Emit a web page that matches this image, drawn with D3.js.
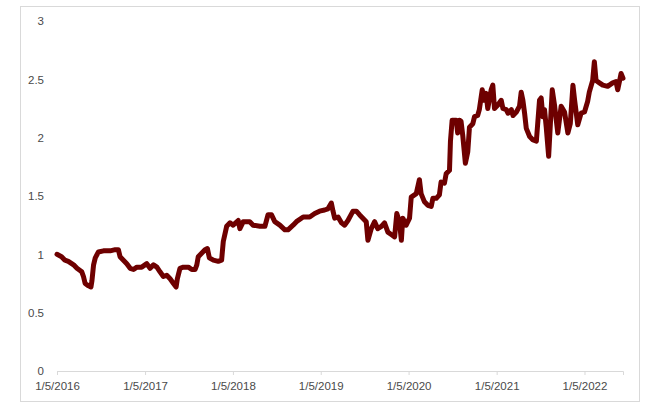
<!DOCTYPE html>
<html>
<head>
<meta charset="utf-8">
<script src="https://cdn.jsdelivr.net/npm/d3@7"></script>
<style>
  body { margin: 0; background: #fff; }
  svg { display: block; font-family: "Open Sans", "Liberation Sans", Arial, sans-serif; }
</style>
</head>
<body>
<div id="chart"></div>
<script>
// values
var dates = [
  "2016-01-05","2016-01-24","2016-02-07","2016-02-21","2016-03-14","2016-03-28","2016-04-17","2016-04-24","2016-05-01","2016-05-15","2016-05-25","2016-05-29","2016-06-05","2016-06-12","2016-06-25","2016-07-16","2016-08-13","2016-09-03","2016-09-16","2016-09-23","2016-10-07","2016-10-21","2016-11-04","2016-11-18","2016-12-02","2016-12-22",
  "2017-01-12","2017-01-26","2017-02-09","2017-02-23","2017-03-08","2017-03-22","2017-04-05","2017-04-19","2017-05-03","2017-05-14","2017-05-19","2017-05-30","2017-06-13","2017-07-04","2017-07-18","2017-08-01","2017-08-08","2017-08-14","2017-08-28","2017-09-11","2017-09-21","2017-09-29","2017-10-16","2017-11-05","2017-11-19","2017-11-26","2017-12-10","2017-12-24",
  "2018-01-06","2018-01-27","2018-02-03","2018-02-17","2018-03-16","2018-03-30","2018-04-27","2018-05-18","2018-05-31","2018-06-14","2018-06-28","2018-07-19","2018-08-09","2018-08-22","2018-09-12","2018-09-26","2018-10-24","2018-11-20","2018-12-11","2018-12-31",
  "2019-01-21","2019-02-04","2019-02-18","2019-02-25","2019-03-04","2019-03-18","2019-04-01","2019-04-14","2019-04-28","2019-05-19","2019-06-02","2019-06-15","2019-06-29","2019-07-13","2019-07-20","2019-08-03","2019-08-17","2019-08-30","2019-09-14","2019-09-27","2019-10-11","2019-10-25","2019-11-08","2019-11-17","2019-11-28","2019-12-06","2019-12-12","2019-12-26",
  "2020-01-09","2020-01-16","2020-02-06","2020-02-19","2020-02-26","2020-03-11","2020-03-25","2020-04-08","2020-04-15","2020-04-29","2020-05-12","2020-05-19","2020-06-02","2020-06-09","2020-06-23","2020-06-27","2020-07-04","2020-07-21","2020-07-27","2020-08-03","2020-08-10","2020-08-17","2020-08-28","2020-09-07","2020-09-14","2020-09-28","2020-10-05","2020-10-18","2020-10-25","2020-11-06","2020-11-15","2020-11-22","2020-11-29","2020-12-13","2020-12-20","2020-12-27",
  "2021-01-10","2021-01-24","2021-01-31","2021-02-14","2021-02-21","2021-03-07","2021-03-14","2021-03-28","2021-04-10","2021-04-17","2021-04-24","2021-05-01","2021-05-08","2021-05-22","2021-06-05","2021-06-19","2021-07-02","2021-07-09","2021-07-16","2021-07-23","2021-07-30","2021-08-09","2021-08-16","2021-08-24","2021-09-03","2021-09-16","2021-09-30","2021-10-14","2021-10-28","2021-11-07","2021-11-18","2021-11-25","2021-12-08","2021-12-22",
  "2022-01-05","2022-01-18","2022-01-25","2022-02-08","2022-02-15","2022-02-22","2022-03-08","2022-03-22","2022-04-11","2022-05-02","2022-05-16","2022-05-23","2022-05-30","2022-06-06","2022-06-14"
];

var values = [
  1.00,0.98,0.95,0.94,0.91,0.88,0.85,0.81,0.75,0.73,0.72,0.77,0.91,0.97,1.02,1.03,1.03,1.04,1.04,0.98,0.95,0.92,0.88,0.87,0.89,0.89,
  0.92,0.88,0.91,0.89,0.85,0.81,0.82,0.79,0.75,0.72,0.79,0.88,0.89,0.89,0.87,0.87,0.91,0.98,1.01,1.04,1.05,0.97,0.95,0.94,0.95,1.11,1.24,1.27,
  1.25,1.29,1.22,1.28,1.28,1.25,1.24,1.24,1.34,1.34,1.28,1.25,1.21,1.21,1.25,1.28,1.32,1.32,1.35,1.37,
  1.38,1.39,1.44,1.37,1.31,1.32,1.27,1.25,1.29,1.37,1.37,1.34,1.31,1.28,1.12,1.22,1.28,1.22,1.24,1.27,1.19,1.17,1.15,1.35,1.28,1.12,1.31,1.25,
  1.31,1.49,1.52,1.64,1.52,1.45,1.42,1.41,1.48,1.48,1.51,1.62,1.61,1.69,1.72,1.97,2.15,2.15,2.04,2.15,2.14,2.02,1.78,1.88,2.09,2.12,2.18,2.19,2.24,2.41,2.32,2.38,2.25,2.41,2.45,2.25,
  2.28,2.32,2.25,2.24,2.21,2.24,2.19,2.22,2.27,2.39,2.32,2.21,2.08,2.01,1.98,1.97,2.32,2.34,2.18,2.24,2.09,1.84,2.11,2.41,2.27,2.04,2.27,2.22,2.04,2.12,2.45,2.32,2.11,2.21,
  2.22,2.31,2.39,2.49,2.65,2.49,2.47,2.45,2.44,2.47,2.48,2.41,2.48,2.55,2.51
];

var xTicks = ["2016-01-05","2017-01-05","2018-01-05","2019-01-05","2020-01-05","2021-01-05","2022-01-05"];
var yTicks = [0, 0.5, 1, 1.5, 2, 2.5, 3];

var width = 653, height = 412;
var parse = d3.timeParse("%Y-%m-%d");

var data = dates.map(function (d, i) {
    return { date: parse(d), value: values[i] };
});

var svg = d3.select("#chart").append("svg")
    .attr("width", width)
    .attr("height", height);

// chart area border
svg.append("rect")
    .attr("x", 20.5).attr("y", 6.5)
    .attr("width", 619).attr("height", 395)
    .attr("fill", "#fff")
    .attr("stroke", "#d9d9d9");

var x = d3.scaleTime()
    .domain(d3.extent(data, function (d) { return d.date; }))
    .range([57, 623]);

var y = d3.scaleLinear()
    .domain([0, 3])
    .range([371, 21]);

var axisX = svg.append("g")
    .attr("transform", "translate(0,371)")
    .call(d3.axisBottom(x)
        .tickValues(xTicks.map(parse))
        .tickFormat(d3.timeFormat("%-m/%-d/%Y"))
        .tickSize(4)
        .tickPadding(7));

axisX.select(".domain").attr("stroke", "#d9d9d9");
axisX.selectAll("line").attr("stroke", "#d9d9d9");
axisX.selectAll("text")
    .attr("fill", "#4a4a4a")
    .attr("font-size", "11.5px");

var axisY = svg.append("g")
    .attr("transform", "translate(57,0)")
    .call(d3.axisLeft(y)
        .tickValues(yTicks)
        .tickFormat(function (d) { return String(d); })
        .tickSize(0)
        .tickPadding(13));

axisY.select(".domain").remove();
axisY.selectAll("text")
    .attr("fill", "#4a4a4a")
    .attr("font-size", "11.5px");

var line = d3.line()
    .x(function (d) { return x(d.date); })
    .y(function (d) { return y(d.value); });

svg.append("path")
    .datum(data)
    .attr("fill", "none")
    .attr("stroke", "#6e0000")
    .attr("stroke-width", 5)
    .attr("stroke-linejoin", "round")
    .attr("stroke-linecap", "round")
    .attr("d", line);
</script>
</body>
</html>
